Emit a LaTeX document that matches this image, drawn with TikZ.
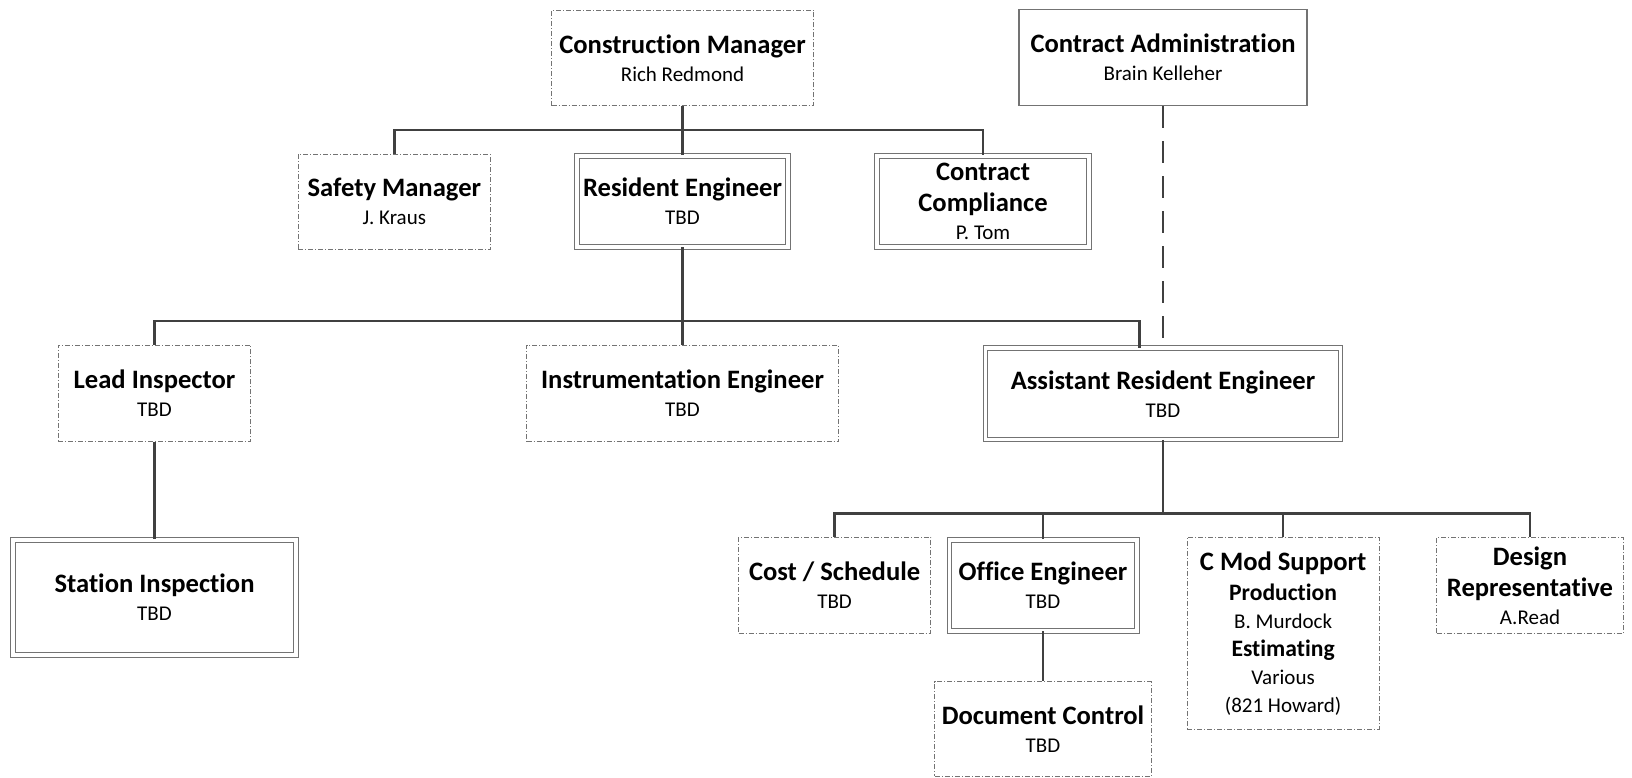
\documentclass[tikz,border=0pt]{standalone}
\usepackage{fontspec}
\setmainfont{Carlito}[Ligatures=CommonOff]
\newlength{\du}
\setlength{\du}{0.5pt}
\newcommand{\hd}[1]{{\fontsize{13.3}{15.5}\selectfont\bfseries #1}}
\newcommand{\hds}[1]{{\fontsize{11.8}{14}\selectfont\bfseries #1}}
\definecolor{boxline}{rgb}{0.450000, 0.450000, 0.450000}
\definecolor{linkline}{rgb}{0.250000, 0.250000, 0.250000}
\tikzset{
  orgbox/.style={rectangle, align=center, inner sep=0pt, fill=white,
    font=\fontsize{10.5}{14}\selectfont},
  boxdash/.style={orgbox, draw=boxline, line width=0.4pt,
    dash pattern=on 2.5pt off 1pt on 0.5pt off 1pt},
  boxdbl/.style={orgbox, draw=boxline, line width=0.5pt,
    double=white, double distance=1.85pt},
  boxplain/.style={orgbox, draw=boxline, line width=0.6pt},
  link/.style={draw=linkline, line width=1.2pt},
  dashlink/.style={link, dash pattern=on 11pt off 6.5pt}
}

\begin{document}
\begin{tikzpicture}
\pgftransformxscale{1.000000}
\pgftransformyscale{-1.000000}
\useasboundingbox (0\du,0\du) rectangle (1632\du,777\du);
% top row
\node[boxdash, minimum width=261.6\du, minimum height=95.7\du] (cm) at (682.5\du,57.9\du){\hd{Construction Manager}\\Rich Redmond};
\node[boxplain, minimum width=288\du, minimum height=96.4\du] (ca) at (1163\du,57.5\du){\hd{Contract Administration}\\Brain Kelleher};
% second row
\node[boxdash, minimum width=192.2\du, minimum height=95.3\du] (sm) at (394.3\du,201.7\du){\hd{Safety Manager}\\J. Kraus};
\node[boxdbl, minimum width=211.1\du, minimum height=91.3\du] (re) at (682.5\du,201.3\du){\hd{Resident Engineer}\\TBD};
\node[boxdbl, minimum width=211.9\du, minimum height=91.3\du] (cc) at (983\du,201.3\du){\hd{Contract}\\[1.5pt]\hd{Compliance}\\P. Tom};
% third row
\node[boxdash, minimum width=192.5\du, minimum height=96.7\du] (li) at (154.5\du,393.3\du){\hd{Lead Inspector}\\TBD};
\node[boxdash, minimum width=312\du, minimum height=96.7\du] (ie) at (682.5\du,393.3\du){\hd{Instrumentation Engineer}\\TBD};
\node[boxdbl, minimum width=355\du, minimum height=91.3\du] (are) at (1163\du,393.7\du){\hd{Assistant Resident Engineer}\\TBD};
% fourth row
\node[boxdbl, minimum width=282.8\du, minimum height=115.3\du] (si) at (154.5\du,597.3\du){\hd{Station Inspection}\\TBD};
\node[boxdash, minimum width=192\du, minimum height=96\du] (cs) at (834.6\du,585.3\du){\hd{Cost / Schedule}\\TBD};
\node[boxdbl, minimum width=187.3\du, minimum height=91.3\du] (oe) at (1043\du,585.3\du){\hd{Office Engineer}\\TBD};
\node[boxdash, minimum width=192\du, minimum height=192\du] (cmod) at (1283.1\du,633.3\du){\hd{C Mod Support}\\[1pt]\hds{Production}\\B. Murdock\\\hds{Estimating}\\Various\\(821 Howard)};
\node[boxdash, minimum width=186.7\du, minimum height=96\du] (dr) at (1530\du,585.3\du){\hd{Design}\\[1.5pt]\hd{Representative}\\A.Read};
\node[boxdash, minimum width=216.4\du, minimum height=94.6\du] (dc) at (1043\du,729\du){\hd{Document Control}\\TBD};
% connectors
\coordinate (busA) at (682.5\du,130\du);
\coordinate (busB) at (1139.3\du,321\du);
\coordinate (busC) at (1163\du,513.3\du);
\draw[link] (cm) -- (re);
\draw[link] (sm.north) |- (busA) -| (cc.north);
\draw[link] (re) -- (ie);
\draw[link] (li.north) |- (busB) -- (busB |- are.north);
\draw[link] (li) -- (si);
\draw[dashlink] (ca) -- (are);
\draw[link] (are) -- (busC);
\draw[link] (cs.north) |- (busC) -| (dr.north);
\draw[link] (oe.north) -- (oe.north |- busC);
\draw[link] (cmod.north) -- (cmod.north |- busC);
\draw[link] (oe) -- (dc);
\end{tikzpicture}
\end{document}
